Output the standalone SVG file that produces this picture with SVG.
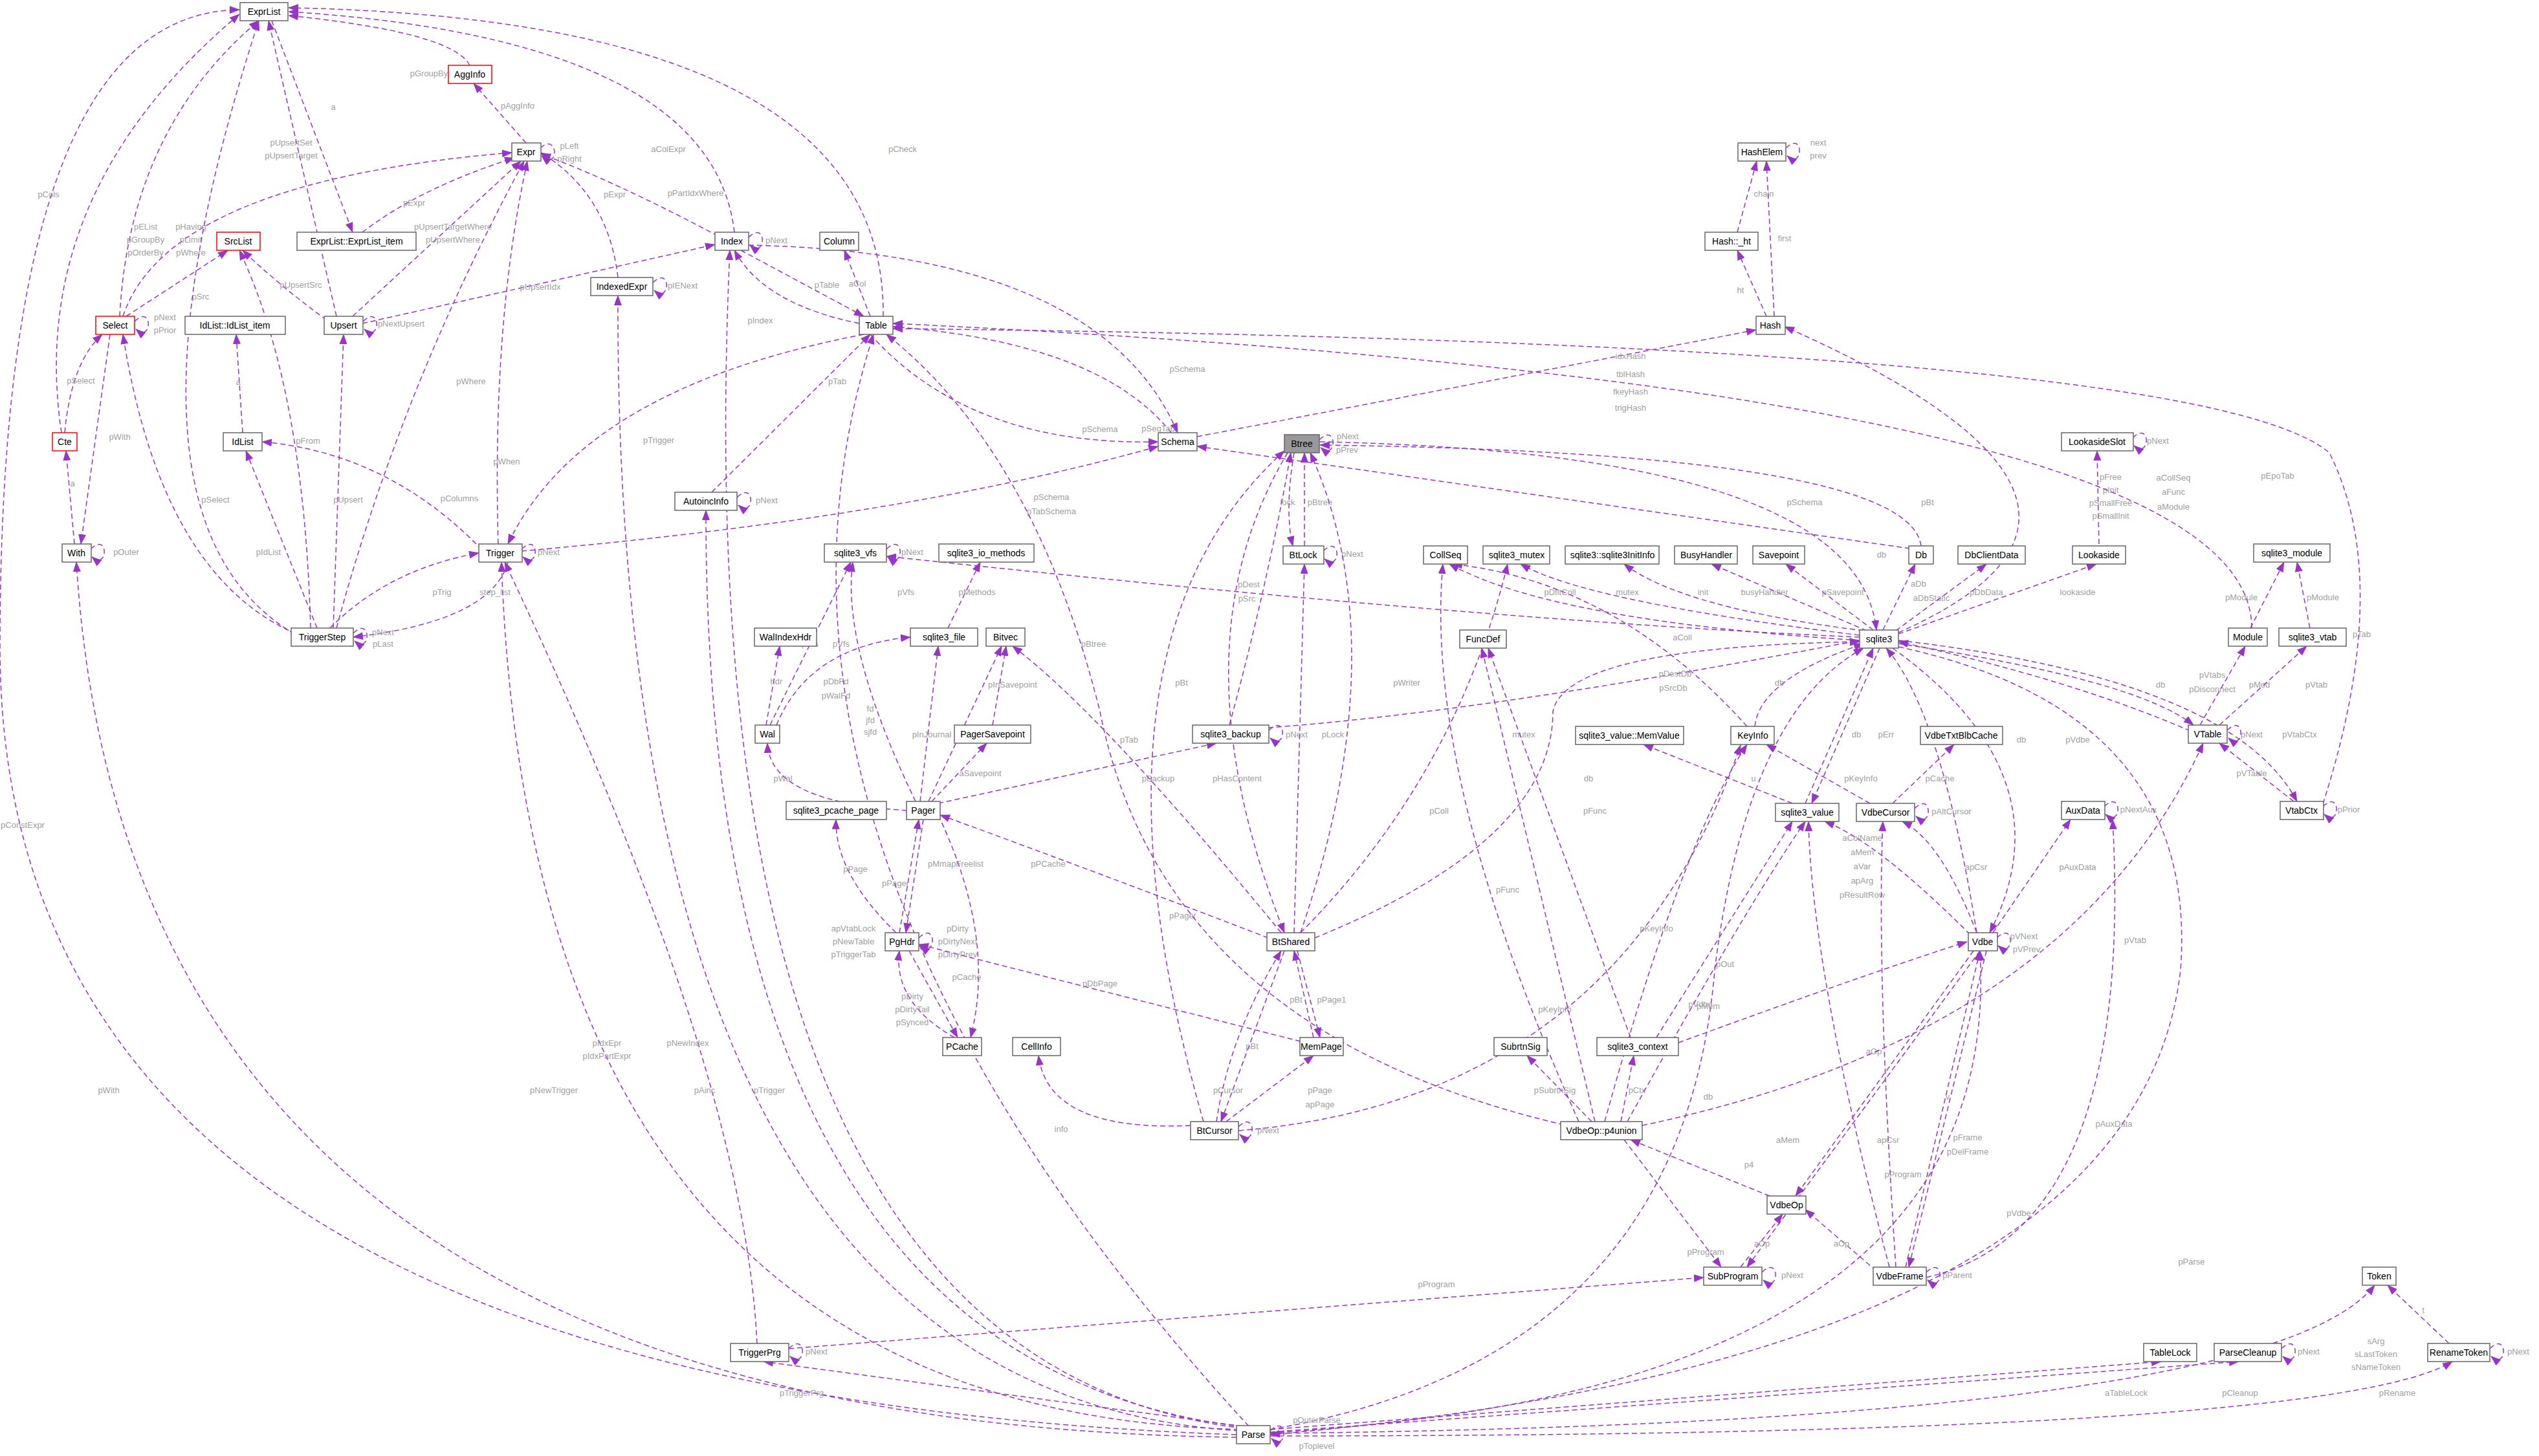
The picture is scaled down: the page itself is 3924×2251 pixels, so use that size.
<svg xmlns="http://www.w3.org/2000/svg" width="3924" height="2251" viewBox="0 0 3924 2251">
<style>
rect{fill:#fff;stroke:#666;stroke-width:1.5}
rect.r{stroke:#f00}
rect.g{fill:#999}
text.n{font-family:"Liberation Sans",Arial,sans-serif;font-size:14px;text-anchor:middle;fill:#000}
text.l{font-family:"Liberation Sans",Arial,sans-serif;font-size:13px;text-anchor:middle;fill:#a0a0a0}
#edges path{fill:none;stroke:#9a32cd;stroke-width:1.5;stroke-dasharray:8,5;marker-end:url(#a)}
</style>
<defs><marker id="a" markerUnits="userSpaceOnUse" markerWidth="16" markerHeight="12" refX="15" refY="6" orient="auto"><path d="M0,0 L16,6 L0,12 z" fill="#9a32cd"/></marker></defs>
<rect x="0" y="0" width="3924" height="2251" style="fill:#fff;stroke:none"/>
<g id="edges">
<path d="M726,101 Q700,50 446,24"/><text class="l" x="663" y="118">pGroupBy</text>
<path d="M813,221 L732,129"/><text class="l" x="800" y="168">pAggInfo</text>
<path d="M420,32 L545,359"/><text class="l" x="515" y="170">a</text>
<path d="M560,359 Q650,290 795,244"/><text class="l" x="640" y="318">pExpr</text>
<path d="M835,229 C862,203 866,265 837,241"/><text class="l" x="880" y="230">pLeft</text><text class="l" x="880" y="250">pRight</text>
<path d="M185,489 Q200,200 400,32"/><text class="l" x="225" y="355">pEList</text><text class="l" x="225" y="375">pGroupBy</text><text class="l" x="225" y="395">pOrderBy</text>
<path d="M190,489 Q260,280 791,236"/><text class="l" x="295" y="355">pHaving</text><text class="l" x="295" y="375">pLimit</text><text class="l" x="295" y="395">pWhere</text>
<path d="M195,489 L352,387"/><text class="l" x="310" y="463">pSrc</text>
<path d="M208,497 C236,469 236,531 210,509"/><text class="l" x="255" y="495">pNext</text><text class="l" x="255" y="515">pPrior</text>
<path d="M170,517 L125,841"/><text class="l" x="185" y="680">pWith</text>
<path d="M100,669 Q110,560 158,517"/><text class="l" x="125" y="593">pSelect</text>
<path d="M115,841 L102,697"/><text class="l" x="112" y="752">a</text>
<path d="M140,849 C168,821 168,883 142,861"/><text class="l" x="195" y="858">pOuter</text>
<path d="M95,669 Q40,300 370,22"/><text class="l" x="75" y="305">pCols</text>
<path d="M520,489 L415,32"/><text class="l" x="450" y="225">pUpsertSet</text><text class="l" x="450" y="245">pUpsertTarget</text>
<path d="M545,489 L805,249"/><text class="l" x="700" y="355">pUpsertTargetWhere</text><text class="l" x="700" y="375">pUpsertWhere</text>
<path d="M560,500 L1105,378"/><text class="l" x="835" y="448">pUpsertIdx</text>
<path d="M561,497 C589,469 589,531 563,509"/><text class="l" x="620" y="505">pNextUpsert</text>
<path d="M505,495 Q430,440 375,387"/><text class="l" x="465" y="445">pUpsertSrc</text>
<path d="M1110,365 Q950,280 836,238"/><text class="l" x="1075" y="303">pPartIdxWhere</text>
<path d="M1135,359 Q1100,60 446,18"/><text class="l" x="1033" y="235">aColExpr</text>
<path d="M1157,367 C1185,339 1185,401 1159,379"/><text class="l" x="1200" y="376">pNext</text>
<path d="M1145,387 L1335,489"/><text class="l" x="1278" y="445">pTable</text>
<path d="M1328,500 Q1180,470 1135,387"/><text class="l" x="1175" y="500">pIndex</text>
<path d="M1345,489 L1305,387"/><text class="l" x="1325" y="443">aCol</text>
<path d="M1365,489 Q1370,30 446,12"/><text class="l" x="1395" y="235">pCheck</text>
<path d="M1157,379 Q1700,390 1820,669"/><text class="l" x="1835" y="575">pSchema</text>
<path d="M1345,517 Q1500,690 1790,683"/><text class="l" x="1700" y="668">pSchema</text>
<path d="M1810,669 Q1700,530 1380,505"/><text class="l" x="1790" y="667">pSeqTab</text>
<path d="M1335,517 Q900,600 785,841"/><text class="l" x="1018" y="685">pTrigger</text>
<path d="M1850,675 L2714,510"/><text class="l" x="2520" y="555">idxHash</text><text class="l" x="2520" y="583">tblHash</text><text class="l" x="2520" y="610">fkeyHash</text><text class="l" x="2520" y="635">trigHash</text>
<path d="M955,429 Q940,300 836,236"/><text class="l" x="950" y="305">pExpr</text>
<path d="M1009,437 C1037,409 1037,471 1011,449"/><text class="l" x="1055" y="446">pIENext</text>
<path d="M375,669 L365,517"/><text class="l" x="368" y="595">a</text>
<path d="M770,841 Q760,500 815,249"/><text class="l" x="783" y="718">pWhen</text>
<path d="M745,850 Q600,700 405,683"/><text class="l" x="710" y="775">pColumns</text>
<path d="M806,852 Q1400,800 1790,690"/><text class="l" x="1625" y="773">pSchema</text><text class="l" x="1625" y="795">pTabSchema</text>
<path d="M806,849 C834,821 834,883 808,861"/><text class="l" x="848" y="858">pNext</text>
<path d="M785,869 Q760,960 546,985"/><text class="l" x="765" y="920">step_list</text>
<path d="M510,971 Q600,880 740,855"/><text class="l" x="683" y="920">pTrig</text>
<path d="M470,985 Q250,900 190,517"/><text class="l" x="333" y="777">pSelect</text>
<path d="M455,980 Q150,800 400,32"/>
<path d="M490,971 L380,697"/><text class="l" x="415" y="858">pIdList</text>
<path d="M480,971 Q470,600 370,387"/><text class="l" x="476" y="686">pFrom</text>
<path d="M515,971 L531,517"/><text class="l" x="538" y="777">pUpsert</text>
<path d="M520,971 Q620,600 810,249"/><text class="l" x="728" y="594">pWhere</text>
<path d="M546,979 C574,951 574,1013 548,991"/><text class="l" x="592" y="982">pNext</text><text class="l" x="592" y="1000">pLast</text>
<path d="M1100,761 L1345,517"/><text class="l" x="1294" y="594">pTab</text>
<path d="M1139,769 C1167,741 1167,803 1141,781"/><text class="l" x="1185" y="778">pNext</text>
<path d="M2685,359 L2715,249"/><text class="l" x="2726" y="304">chain</text>
<path d="M2730,489 L2685,387"/><text class="l" x="2690" y="453">ht</text>
<path d="M2742,489 L2730,249"/><text class="l" x="2758" y="373">first</text>
<path d="M2760,229 C2788,201 2788,263 2762,241"/><text class="l" x="2810" y="225">next</text><text class="l" x="2810" y="245">prev</text>
<path d="M3296,677 C3324,649 3324,711 3298,689"/><text class="l" x="3335" y="686">pNext</text>
<path d="M3244,841 L3241,697"/><text class="l" x="3262" y="742">pFree</text><text class="l" x="3262" y="762">pInit</text><text class="l" x="3262" y="782">pSmallFree</text><text class="l" x="3262" y="802">pSmallInit</text>
<path d="M2039,680 C2067,652 2067,714 2041,692"/><text class="l" x="2083" y="679">pNext</text><text class="l" x="2082" y="700">pPrev</text>
<path d="M2016,844 L2016,700"/><text class="l" x="2040" y="781">pBtree</text>
<path d="M2000,700 Q1985,790 1998,844"/><text class="l" x="1990" y="781">lock</text>
<path d="M2045,852 C2073,824 2073,886 2047,864"/><text class="l" x="2090" y="861">pNext</text>
<path d="M2969,844 Q2950,700 2040,688"/><text class="l" x="2979" y="781">pBt</text>
<path d="M2952,848 L1850,690"/><text class="l" x="2789" y="781">pSchema</text>
<path d="M2040,683 Q2870,700 2900,974"/><text class="l" x="2908" y="862">db</text>
<path d="M1900,1121 Q1960,900 1995,700"/><text class="l" x="1930" y="908">pDest</text><text class="l" x="1927" y="930">pSrc</text>
<path d="M1960,1125 Q2300,1100 2874,990"/><text class="l" x="2589" y="1046">pDestDb</text><text class="l" x="2586" y="1068">pSrcDb</text>
<path d="M1961,1129 C1989,1101 1989,1163 1963,1141"/><text class="l" x="2004" y="1140">pNext</text>
<path d="M2010,1442 Q2160,1000 2025,700"/><text class="l" x="2174" y="1060">pWriter</text>
<path d="M2000,1442 L2016,872"/><text class="l" x="2060" y="1140">pLock</text>
<path d="M1990,700 Q1810,1000 1985,1442"/><text class="l" x="1826" y="1060">pBt</text>
<path d="M1860,1734 Q1650,1000 1985,697"/><text class="l" x="1690" y="1000">pBtree</text>
<path d="M2010,1442 Q2250,1200 2330,872"/><text class="l" x="2355" y="1140">mutex</text>
<path d="M1985,1470 L1887,1734"/><text class="l" x="1898" y="1690">pCursor</text>
<path d="M1880,1734 Q1900,1600 1980,1470"/><text class="l" x="1935" y="1622">pBt</text>
<path d="M1960,1450 Q1700,1350 1453,1260"/><text class="l" x="1828" y="1420">pPager</text>
<path d="M2005,1470 L2040,1604"/><text class="l" x="2058" y="1550">pPage1</text>
<path d="M2030,1604 L2000,1470"/><text class="l" x="2003" y="1550">pBt</text>
<path d="M2032,1450 Q2400,1300 2400,1100 Q2420,1000 2874,992"/><text class="l" x="2455" y="1208">db</text>
<path d="M1450,1242 L1880,1149"/><text class="l" x="1790" y="1208">pBackup</text>
<path d="M1980,1442 Q1700,1100 1565,999"/><text class="l" x="1912" y="1208">pHasContent</text>
<path d="M2010,1610 L1420,1460"/><text class="l" x="1700" y="1525">pDbPage</text>
<path d="M1895,1734 L2030,1632"/><text class="l" x="2040" y="1690">pPage</text><text class="l" x="2040" y="1712">apPage</text>
<path d="M1840,1740 Q1620,1750 1605,1632"/><text class="l" x="1640" y="1750">info</text>
<path d="M1914,1748 Q2500,1700 2690,1152"/><text class="l" x="2403" y="1565">pKeyInfo</text>
<path d="M1914,1742 C1942,1714 1942,1776 1916,1754"/><text class="l" x="1960" y="1752">pNext</text>
<path d="M1415,1239 Q1300,1000 1318,869"/><text class="l" x="1300" y="1000">pVfs</text>
<path d="M1422,1239 L1450,999"/><text class="l" x="1345" y="1100">fd</text><text class="l" x="1345" y="1118">jfd</text><text class="l" x="1345" y="1136">sjfd</text>
<path d="M1435,1239 L1548,999"/><text class="l" x="1440" y="1140">pInJournal</text>
<path d="M1440,1239 L1525,1149"/><text class="l" x="1515" y="1200">aSavepoint</text>
<path d="M1402,1253 Q1190,1240 1186,1149"/><text class="l" x="1210" y="1208">pWal</text>
<path d="M1450,1260 Q1540,1450 1500,1604"/><text class="l" x="1620" y="1340">pPCache</text>
<path d="M1427,1267 L1400,1442"/><text class="l" x="1477" y="1340">pMmapFreelist</text>
<path d="M1534,1121 L1555,999"/><text class="l" x="1565" y="1063">pInSavepoint</text>
<path d="M1190,1121 L1315,869"/><text class="l" x="1252" y="1000">pVfs</text>
<path d="M1200,1121 Q1250,1000 1407,985"/><text class="l" x="1292" y="1058">pDbFd</text><text class="l" x="1292" y="1080">pWalFd</text>
<path d="M1184,1121 L1205,999"/><text class="l" x="1200" y="1058">hdr</text>
<path d="M1370,849 C1398,821 1398,883 1372,861"/><text class="l" x="1410" y="858">pNext</text>
<path d="M1465,971 L1515,869"/><text class="l" x="1510" y="920">pMethods</text>
<path d="M1385,1442 Q1290,1350 1292,1267"/><text class="l" x="1322" y="1348">pPage</text>
<path d="M1390,1442 L1420,1267"/><text class="l" x="1384" y="1370">pPager</text>
<path d="M1420,1450 C1448,1422 1448,1484 1422,1462"/><text class="l" x="1480" y="1440">pDirty</text><text class="l" x="1480" y="1460">pDirtyNext</text><text class="l" x="1480" y="1480">pDirtyPrev</text>
<path d="M1405,1470 L1480,1604"/><text class="l" x="1494" y="1515">pCache</text>
<path d="M1475,1604 Q1380,1550 1390,1470"/><text class="l" x="1410" y="1545">pDirty</text><text class="l" x="1410" y="1565">pDirtyTail</text><text class="l" x="1410" y="1585">pSynced</text>
<path d="M2874,985 Q2300,960 1370,860"/><text class="l" x="1400" y="920">pVfs</text>
<path d="M2874,990 Q2400,960 2240,872"/><text class="l" x="2411" y="920">pDfltColl</text>
<path d="M2874,982 Q2450,930 2350,872"/><text class="l" x="2515" y="920">mutex</text>
<path d="M2880,975 Q2600,940 2510,872"/><text class="l" x="2632" y="920">init</text>
<path d="M2885,975 L2645,872"/><text class="l" x="2727" y="920">busyHandler</text>
<path d="M2895,974 L2760,872"/><text class="l" x="2848" y="920">pSavepoint</text>
<path d="M2910,974 L2960,872"/><text class="l" x="2965" y="907">aDb</text><text class="l" x="2985" y="929">aDbStatic</text>
<path d="M2930,975 L3070,872"/><text class="l" x="3070" y="920">pDbData</text>
<path d="M2934,980 L3240,872"/><text class="l" x="3211" y="920">lookaside</text>
<path d="M2934,978 Q3380,780 2758,505"/><text class="l" x="3359" y="743">aCollSeq</text><text class="l" x="3359" y="765">aFunc</text><text class="l" x="3359" y="788">aModule</text>
<path d="M2934,995 Q3300,1050 3390,1121"/><text class="l" x="3419" y="1048">pVtabs</text><text class="l" x="3419" y="1070">pDisconnect</text>
<path d="M3385,1130 Q3200,1050 2934,992"/><text class="l" x="3339" y="1063">db</text>
<path d="M2934,990 Q3450,1050 3550,1239"/><text class="l" x="3554" y="1140">pVtabCtx</text>
<path d="M2925,1002 Q3200,1200 3075,1442"/><text class="l" x="3211" y="1148">pVdbe</text>
<path d="M3055,1442 Q3000,1100 2915,1002"/><text class="l" x="3124" y="1148">db</text>
<path d="M2905,1002 L2800,1242"/><text class="l" x="2915" y="1140">pErr</text>
<path d="M2790,1242 L2895,1002"/><text class="l" x="2869" y="1140">db</text>
<path d="M2934,1000 Q3400,1100 3370,1500 Q3300,2100 1963,2218"/><text class="l" x="3387" y="1955">pParse</text>
<path d="M1963,2210 Q2600,2100 2650,1500 Q2700,1100 2880,1002"/><text class="l" x="2640" y="1700">db</text>
<path d="M2700,1123 Q2500,900 2245,872"/><text class="l" x="2600" y="990">aColl</text>
<path d="M2712,1123 Q2720,1050 2880,995"/><text class="l" x="2750" y="1060">db</text>
<path d="M2770,1242 L2540,1151"/><text class="l" x="2710" y="1208">u</text>
<path d="M2890,1242 L2730,1151"/><text class="l" x="2876" y="1208">pKeyInfo</text>
<path d="M2925,1242 L3020,1151"/><text class="l" x="2998" y="1208">pCache</text>
<path d="M2959,1250 C2987,1222 2987,1284 2961,1262"/><text class="l" x="3016" y="1259">pAltCursor</text>
<path d="M3400,1121 L3470,999"/><text class="l" x="3492" y="1063">pMod</text>
<path d="M3430,1121 L3565,999"/><text class="l" x="3580" y="1063">pVtab</text>
<path d="M3442,1129 C3470,1101 3470,1163 3444,1141"/><text class="l" x="3480" y="1140">pNext</text>
<path d="M3478,971 L3530,869"/><text class="l" x="3464" y="928">pModule</text>
<path d="M3570,971 L3550,869"/><text class="l" x="3590" y="928">pModule</text>
<path d="M3480,971 Q3480,600 1380,500"/><text class="l" x="3520" y="740">pEpoTab</text>
<path d="M3545,1239 L3430,1149"/><text class="l" x="3480" y="1200">pVTable</text>
<path d="M3590,1243 Q3700,900 3600,700 Q3400,530 1380,508"/><text class="l" x="3650" y="985">pTab</text>
<path d="M3590,1247 C3618,1219 3618,1281 3592,1259"/><text class="l" x="3630" y="1256">pPrior</text>
<path d="M3252,1247 C3280,1219 3280,1281 3254,1259"/><text class="l" x="3305" y="1256">pNextAux</text>
<path d="M3045,1445 Q2900,1300 2820,1270"/><text class="l" x="2878" y="1300">aColName</text><text class="l" x="2878" y="1322">aMem</text><text class="l" x="2878" y="1344">aVar</text><text class="l" x="2878" y="1366">apArg</text><text class="l" x="2878" y="1388">pResultRow</text>
<path d="M3055,1442 Q3000,1300 2940,1270"/><text class="l" x="3054" y="1345">apCsr</text>
<path d="M3080,1442 L3200,1267"/><text class="l" x="3211" y="1345">pAuxData</text>
<path d="M3086,1450 C3114,1422 3114,1484 3088,1462"/><text class="l" x="3128" y="1452">pVNext</text><text class="l" x="3132" y="1472">pVPrev</text>
<path d="M3050,1470 L2775,1849"/><text class="l" x="2896" y="1630">aOp</text>
<path d="M3060,1470 L2700,1959"/><text class="l" x="2941" y="1820">pProgram</text>
<path d="M3070,1470 L2950,1959"/><text class="l" x="3041" y="1763">pFrame</text><text class="l" x="3041" y="1785">pDelFrame</text>
<path d="M2560,1604 L2770,1270"/><text class="l" x="2666" y="1495">pOut</text>
<path d="M2520,1604 L2300,1002"/><text class="l" x="2465" y="1258">pFunc</text>
<path d="M2594,1612 Q2900,1500 3040,1456"/><text class="l" x="2628" y="1557">pVdbe</text>
<path d="M2735,1849 L2520,1762"/><text class="l" x="2703" y="1805">p4</text>
<path d="M2440,1734 Q2200,1200 2230,872"/><text class="l" x="2224" y="1258">pColl</text>
<path d="M2465,1734 L2290,1002"/><text class="l" x="2330" y="1380">pFunc</text>
<path d="M2480,1734 Q2600,1300 2700,1151"/><text class="l" x="2560" y="1440">pKeyInfo</text>
<path d="M2505,1734 L2525,1632"/><text class="l" x="2530" y="1690">pCtx</text>
<path d="M2515,1734 Q2700,1400 2790,1270"/><text class="l" x="2640" y="1560">pMem</text>
<path d="M2430,1742 Q1800,1600 1700,1100 Q1600,700 1370,517"/><text class="l" x="1745" y="1148">pTab</text>
<path d="M2538,1740 Q3200,1600 3405,1149"/><text class="l" x="3300" y="1458">pVtab</text>
<path d="M2510,1762 L2660,1959"/><text class="l" x="2636" y="1940">pProgram</text>
<path d="M2460,1734 L2360,1632"/><text class="l" x="2403" y="1690">pSubrtnSig</text>
<path d="M2690,1959 L2755,1877"/><text class="l" x="2723" y="1927">aOp</text>
<path d="M2723,1967 C2751,1939 2751,2001 2725,1979"/><text class="l" x="2770" y="1976">pNext</text>
<path d="M2945,1959 L3060,1470"/><text class="l" x="3010" y="1700">v</text>
<path d="M2900,1965 L2790,1870"/><text class="l" x="2846" y="1927">aOp</text>
<path d="M2920,1959 Q2800,1500 2795,1270"/><text class="l" x="2763" y="1767">aMem</text>
<path d="M2930,1959 Q2900,1500 2910,1270"/><text class="l" x="2918" y="1767">apCsr</text>
<path d="M2977,1975 Q3300,1900 3265,1267"/><text class="l" x="3267" y="1742">pAuxData</text>
<path d="M2977,1967 C3005,1939 3005,2001 2979,1979"/><text class="l" x="3025" y="1976">pParent</text>
<path d="M1219,2085 L2633,1975"/><text class="l" x="2220" y="1990">pProgram</text>
<path d="M1170,2077 Q1150,1650 780,869"/><text class="l" x="1189" y="1690">pTrigger</text>
<path d="M1219,2085 C1247,2057 1247,2119 1221,2097"/><text class="l" x="1262" y="2094">pNext</text>
<path d="M3785,2077 L3690,1987"/><text class="l" x="3745" y="2030">t</text>
<path d="M3848,2085 C3876,2057 3876,2119 3850,2097"/><text class="l" x="3892" y="2094">pNext</text>
<path d="M3526,2085 C3554,2057 3554,2119 3528,2097"/><text class="l" x="3568" y="2094">pNext</text>
<path d="M1911,2218 Q0,2150 0,1000 Q0,20 370,15"/><text class="l" x="35" y="1280">pConstExpr</text>
<path d="M1911,2222 Q200,2200 118,869"/><text class="l" x="168" y="1690">pWith</text>
<path d="M1915,2210 Q820,2180 775,869"/><text class="l" x="856" y="1690">pNewTrigger</text>
<path d="M1915,2212 Q950,2150 955,457"/><text class="l" x="938" y="1617">pIdxEpr</text><text class="l" x="938" y="1637">pIdxPartExpr</text>
<path d="M1920,2208 Q1050,2100 1128,387"/><text class="l" x="1063" y="1617">pNewIndex</text>
<path d="M1920,2206 Q1090,2100 1091,789"/><text class="l" x="1089" y="1690">pAinc</text>
<path d="M1930,2205 Q1100,1300 1350,517"/><text class="l" x="1319" y="1440">apVtabLock</text><text class="l" x="1319" y="1460">pNewTable</text><text class="l" x="1319" y="1480">pTriggerTab</text>
<path d="M1920,2205 L1180,2105"/><text class="l" x="1239" y="2158">pTriggerPrg</text>
<path d="M1963,2215 Q3100,2150 3060,1470"/><text class="l" x="3120" y="1880">pVdbe</text>
<path d="M1963,2210 L3340,2105"/><text class="l" x="3286" y="2158">aTableLock</text>
<path d="M1963,2214 L3460,2105"/><text class="l" x="3462" y="2158">pCleanup</text>
<path d="M1963,2216 Q3500,2200 3670,1987"/><text class="l" x="3672" y="2078">sArg</text><text class="l" x="3672" y="2098">sLastToken</text><text class="l" x="3672" y="2118">sNameToken</text>
<path d="M1963,2220 Q3600,2220 3790,2105"/><text class="l" x="3705" y="2158">pRename</text>
<path d="M1963,2212 C1991,2184 1991,2246 1965,2224"/><text class="l" x="2035" y="2200">pOuterParse</text><text class="l" x="2035" y="2240">pToplevel</text>
</g>
<g id="ExprList"><rect x="371" y="4" width="74" height="28"/><text class="n" x="408" y="23">ExprList</text></g>
<g id="AggInfo"><rect class="r" x="693" y="101" width="67" height="28"/><text class="n" x="726" y="120">AggInfo</text></g>
<g id="Expr"><rect x="791" y="221" width="45" height="28"/><text class="n" x="813" y="240">Expr</text></g>
<g id="ExprList_item"><rect x="459" y="359" width="184" height="28"/><text class="n" x="551" y="378">ExprList::ExprList_item</text></g>
<g id="SrcList"><rect class="r" x="335" y="359" width="67" height="28"/><text class="n" x="368" y="378">SrcList</text></g>
<g id="Select"><rect class="r" x="148" y="489" width="60" height="28"/><text class="n" x="178" y="508">Select</text></g>
<g id="IdList_item"><rect x="286" y="489" width="155" height="28"/><text class="n" x="363" y="508">IdList::IdList_item</text></g>
<g id="Upsert"><rect x="501" y="489" width="60" height="28"/><text class="n" x="531" y="508">Upsert</text></g>
<g id="Index"><rect x="1105" y="359" width="52" height="28"/><text class="n" x="1131" y="378">Index</text></g>
<g id="Column"><rect x="1267" y="359" width="60" height="28"/><text class="n" x="1297" y="378">Column</text></g>
<g id="IndexedExpr"><rect x="913" y="429" width="96" height="28"/><text class="n" x="961" y="448">IndexedExpr</text></g>
<g id="Table"><rect x="1328" y="489" width="52" height="28"/><text class="n" x="1354" y="508">Table</text></g>
<g id="Cte"><rect class="r" x="81" y="669" width="38" height="28"/><text class="n" x="100" y="688">Cte</text></g>
<g id="IdList"><rect x="345" y="669" width="60" height="28"/><text class="n" x="375" y="688">IdList</text></g>
<g id="Schema"><rect x="1790" y="669" width="60" height="28"/><text class="n" x="1820" y="688">Schema</text></g>
<g id="Btree"><rect class="g" x="1985" y="672" width="54" height="28"/><text class="n" x="2012" y="691">Btree</text></g>
<g id="With"><rect x="96" y="841" width="45" height="28"/><text class="n" x="118" y="860">With</text></g>
<g id="Trigger"><rect x="740" y="841" width="67" height="28"/><text class="n" x="773" y="860">Trigger</text></g>
<g id="AutoincInfo"><rect x="1043" y="761" width="96" height="28"/><text class="n" x="1091" y="780">AutoincInfo</text></g>
<g id="TriggerStep"><rect x="450" y="971" width="96" height="28"/><text class="n" x="498" y="990">TriggerStep</text></g>
<g id="sqlite3_vfs"><rect x="1274" y="841" width="96" height="28"/><text class="n" x="1322" y="860">sqlite3_vfs</text></g>
<g id="sqlite3_io_methods"><rect x="1451" y="841" width="147" height="28"/><text class="n" x="1524" y="860">sqlite3_io_methods</text></g>
<g id="WalIndexHdr"><rect x="1166" y="971" width="96" height="28"/><text class="n" x="1214" y="990">WalIndexHdr</text></g>
<g id="sqlite3_file"><rect x="1407" y="971" width="104" height="28"/><text class="n" x="1459" y="990">sqlite3_file</text></g>
<g id="Bitvec"><rect x="1524" y="971" width="60" height="28"/><text class="n" x="1554" y="990">Bitvec</text></g>
<g id="Wal"><rect x="1167" y="1121" width="38" height="28"/><text class="n" x="1186" y="1140">Wal</text></g>
<g id="PagerSavepoint"><rect x="1475" y="1121" width="118" height="28"/><text class="n" x="1534" y="1140">PagerSavepoint</text></g>
<g id="sqlite3_backup"><rect x="1843" y="1121" width="118" height="28"/><text class="n" x="1902" y="1140">sqlite3_backup</text></g>
<g id="Pager"><rect x="1401" y="1239" width="52" height="28"/><text class="n" x="1427" y="1258">Pager</text></g>
<g id="sqlite3_pcache_page"><rect x="1215" y="1239" width="155" height="28"/><text class="n" x="1292" y="1258">sqlite3_pcache_page</text></g>
<g id="PgHdr"><rect x="1368" y="1442" width="52" height="28"/><text class="n" x="1394" y="1461">PgHdr</text></g>
<g id="PCache"><rect x="1457" y="1604" width="60" height="28"/><text class="n" x="1487" y="1623">PCache</text></g>
<g id="CellInfo"><rect x="1565" y="1604" width="74" height="28"/><text class="n" x="1602" y="1623">CellInfo</text></g>
<g id="BtLock"><rect x="1983" y="844" width="63" height="28"/><text class="n" x="2014" y="863">BtLock</text></g>
<g id="BtShared"><rect x="1958" y="1442" width="74" height="28"/><text class="n" x="1995" y="1461">BtShared</text></g>
<g id="MemPage"><rect x="2009" y="1604" width="67" height="28"/><text class="n" x="2042" y="1623">MemPage</text></g>
<g id="BtCursor"><rect x="1840" y="1734" width="74" height="28"/><text class="n" x="1877" y="1753">BtCursor</text></g>
<g id="CollSeq"><rect x="2200" y="844" width="68" height="28"/><text class="n" x="2234" y="863">CollSeq</text></g>
<g id="sqlite3_mutex"><rect x="2292" y="844" width="103" height="28"/><text class="n" x="2344" y="863">sqlite3_mutex</text></g>
<g id="sqlite3InitInfo"><rect x="2419" y="844" width="145" height="28"/><text class="n" x="2492" y="863">sqlite3::sqlite3InitInfo</text></g>
<g id="BusyHandler"><rect x="2588" y="844" width="97" height="28"/><text class="n" x="2637" y="863">BusyHandler</text></g>
<g id="Savepoint"><rect x="2709" y="844" width="80" height="28"/><text class="n" x="2749" y="863">Savepoint</text></g>
<g id="Db"><rect x="2950" y="844" width="38" height="28"/><text class="n" x="2969" y="863">Db</text></g>
<g id="DbClientData"><rect x="3026" y="844" width="104" height="28"/><text class="n" x="3078" y="863">DbClientData</text></g>
<g id="Lookaside"><rect x="3203" y="844" width="82" height="28"/><text class="n" x="3244" y="863">Lookaside</text></g>
<g id="sqlite3_module"><rect x="3483" y="841" width="118" height="28"/><text class="n" x="3542" y="860">sqlite3_module</text></g>
<g id="FuncDef"><rect x="2256" y="974" width="72" height="28"/><text class="n" x="2292" y="993">FuncDef</text></g>
<g id="sqlite3"><rect x="2874" y="974" width="60" height="28"/><text class="n" x="2904" y="993">sqlite3</text></g>
<g id="Module"><rect x="3444" y="971" width="60" height="28"/><text class="n" x="3474" y="990">Module</text></g>
<g id="sqlite3_vtab"><rect x="3522" y="971" width="104" height="28"/><text class="n" x="3574" y="990">sqlite3_vtab</text></g>
<g id="MemValue"><rect x="2435" y="1123" width="167" height="28"/><text class="n" x="2518" y="1142">sqlite3_value::MemValue</text></g>
<g id="KeyInfo"><rect x="2675" y="1123" width="67" height="28"/><text class="n" x="2709" y="1142">KeyInfo</text></g>
<g id="VdbeTxtBlbCache"><rect x="2968" y="1123" width="127" height="28"/><text class="n" x="3031" y="1142">VdbeTxtBlbCache</text></g>
<g id="VTable"><rect x="3382" y="1121" width="60" height="28"/><text class="n" x="3412" y="1140">VTable</text></g>
<g id="sqlite3_value"><rect x="2744" y="1242" width="98" height="28"/><text class="n" x="2793" y="1261">sqlite3_value</text></g>
<g id="VdbeCursor"><rect x="2869" y="1242" width="90" height="28"/><text class="n" x="2914" y="1261">VdbeCursor</text></g>
<g id="AuxData"><rect x="3186" y="1239" width="67" height="28"/><text class="n" x="3219" y="1258">AuxData</text></g>
<g id="VtabCtx"><rect x="3524" y="1239" width="67" height="28"/><text class="n" x="3557" y="1258">VtabCtx</text></g>
<g id="Vdbe"><rect x="3042" y="1442" width="45" height="28"/><text class="n" x="3064" y="1461">Vdbe</text></g>
<g id="SubrtnSig"><rect x="2309" y="1604" width="82" height="28"/><text class="n" x="2350" y="1623">SubrtnSig</text></g>
<g id="sqlite3_context"><rect x="2468" y="1604" width="126" height="28"/><text class="n" x="2531" y="1623">sqlite3_context</text></g>
<g id="p4union"><rect x="2412" y="1734" width="126" height="28"/><text class="n" x="2475" y="1753">VdbeOp::p4union</text></g>
<g id="VdbeOp"><rect x="2731" y="1849" width="60" height="28"/><text class="n" x="2761" y="1868">VdbeOp</text></g>
<g id="SubProgram"><rect x="2633" y="1959" width="90" height="28"/><text class="n" x="2678" y="1978">SubProgram</text></g>
<g id="VdbeFrame"><rect x="2895" y="1959" width="82" height="28"/><text class="n" x="2936" y="1978">VdbeFrame</text></g>
<g id="Token"><rect x="3651" y="1959" width="52" height="28"/><text class="n" x="3677" y="1978">Token</text></g>
<g id="TriggerPrg"><rect x="1129" y="2077" width="90" height="28"/><text class="n" x="1174" y="2096">TriggerPrg</text></g>
<g id="TableLock"><rect x="3313" y="2077" width="82" height="28"/><text class="n" x="3354" y="2096">TableLock</text></g>
<g id="ParseCleanup"><rect x="3422" y="2077" width="104" height="28"/><text class="n" x="3474" y="2096">ParseCleanup</text></g>
<g id="RenameToken"><rect x="3752" y="2077" width="96" height="28"/><text class="n" x="3800" y="2096">RenameToken</text></g>
<g id="Parse"><rect x="1911" y="2204" width="52" height="28"/><text class="n" x="1937" y="2223">Parse</text></g>
<g id="HashElem"><rect x="2686" y="221" width="74" height="28"/><text class="n" x="2723" y="240">HashElem</text></g>
<g id="Hash_ht"><rect x="2635" y="359" width="82" height="28"/><text class="n" x="2676" y="378">Hash::_ht</text></g>
<g id="Hash"><rect x="2714" y="489" width="45" height="28"/><text class="n" x="2736" y="508">Hash</text></g>
<g id="LookasideSlot"><rect x="3186" y="669" width="111" height="28"/><text class="n" x="3241" y="688">LookasideSlot</text></g>
</svg>
